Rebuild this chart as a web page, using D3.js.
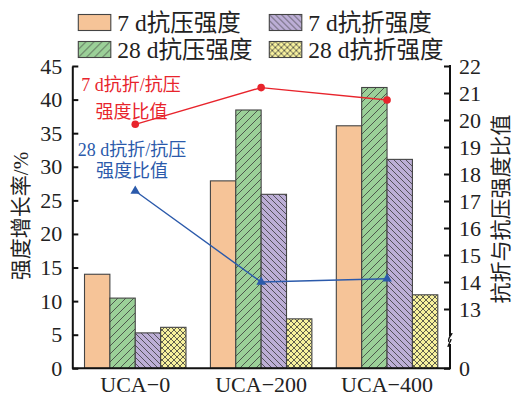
<!DOCTYPE html>
<html>
<head>
<meta charset="utf-8">
<script src="https://cdn.jsdelivr.net/npm/d3@7"></script>
<style>
  html, body { margin: 0; padding: 0; background: #fff; }
  svg text { font-family: "Liberation Serif", "Noto Sans CJK SC", serif; fill: #222; }
</style>
</head>
<body>
<svg id="chart" width="512" height="397"></svg>
<script>
// Mix groups and the four bar series (strength growth rate, %)
const groups = ["UCA\u22120", "UCA\u2212200", "UCA\u2212400"];
const seriesNames = ["7 d抗压强度", "28 d抗压强度", "7 d抗折强度", "28 d抗折强度"];
const comp7 = [14.0, 27.9, 36.1];
const comp28 = [10.45, 38.45, 41.8];
const flex7 = [5.27, 25.9, 31.1];
const flex28 = [6.1, 7.36, 10.94];

// Flexural/compressive strength ratio lines (right axis)
const ratio7 = [19.84, 21.2, 20.74];
const ratio28 = [17.37, 14.0, 14.12];

// Tick labels
const leftTicks = [0, 5, 10, 15, 20, 25, 30, 35, 40, 45];
const rightTicks = [0, 13, 14, 15, 16, 17, 18, 19, 20, 21, 22];

const svg = d3.select("#chart");
const plotL = 72.3, plotR = 450, plotT = 66, plotB = 368.3;

const x = d3.scaleBand().domain(groups).range([plotL, plotR]).paddingInner(0.194).paddingOuter(0.097);
const barKeys = [0, 1, 2, 3];
const xs = d3.scaleBand().domain(barKeys).range([0, x.bandwidth()]);
const y = d3.scaleLinear().domain([0, 45]).range([plotB, plotT]);
// broken right axis: 0 at the baseline, 12..22 stretched above the break
const y2 = d3.scaleLinear().domain([0, 12, 22]).range([plotB, 336, plotT]);

const fills = ["#f6c498", "#9bd098", "#bcaed6", "#f7f19d"];
const patIds = [null, "hatchFwd", "hatchBack", "hatchCross"];

// Hatch patterns
const defs = svg.append("defs");
function pattern(id, size, bg, d) {
  const p = defs.append("pattern").attr("id", id).attr("patternUnits", "userSpaceOnUse")
    .attr("width", size).attr("height", size);
  p.append("rect").attr("width", size).attr("height", size).attr("fill", bg);
  p.append("path").attr("d", d).attr("stroke", "#3a3a3a").attr("stroke-width", 0.8).attr("fill", "none");
}
pattern("hatchFwd", 8, fills[1], "M-2,2 L2,-2 M0,8 L8,0 M6,10 L10,6");
pattern("hatchBack", 6, fills[2], "M-1.5,4.5 L1.5,7.5 M0,0 L6,6 M4.5,-1.5 L7.5,1.5");
pattern("hatchCross", 6, fills[3], "M0,0 L6,6 M-1.5,4.5 L1.5,7.5 M4.5,-1.5 L7.5,1.5 M0,6 L6,0 M-1.5,1.5 L1.5,-1.5 M4.5,7.5 L7.5,4.5");

function fillOf(i) { return patIds[i] ? "url(#" + patIds[i] + ")" : fills[i]; }

// Bars
const seriesVals = [comp7, comp28, flex7, flex28];
const rows = [];
groups.forEach((g, gi) => seriesVals.forEach((vals, si) => rows.push({ g, si, v: vals[gi] })));
svg.append("g").selectAll("rect").data(rows).join("rect")
  .attr("x", d => x(d.g) + xs(d.si))
  .attr("y", d => y(d.v))
  .attr("width", xs.bandwidth())
  .attr("height", d => plotB - y(d.v))
  .attr("fill", d => fillOf(d.si))
  .attr("stroke", "#444")
  .attr("stroke-width", 1.1);

// Left axis
const gL = svg.append("g").attr("transform", `translate(${plotL},0)`)
  .call(d3.axisLeft(y).tickValues(leftTicks).tickSize(-6).tickPadding(10).tickSizeOuter(0));
gL.select(".domain").attr("stroke", "#111").attr("stroke-width", 2);
gL.selectAll(".tick line").attr("stroke", "#111").attr("stroke-width", 2);
gL.selectAll(".tick text").attr("font-size", 22).attr("fill", "#222").attr("font-family", "Liberation Serif");

// Bottom axis (labels only)
svg.append("line").attr("x1", plotL).attr("x2", plotR).attr("y1", plotB).attr("y2", plotB)
  .attr("stroke", "#111").attr("stroke-width", 2);
svg.append("g").selectAll("text").data(groups).join("text")
  .attr("x", d => x(d) + x.bandwidth() / 2)
  .attr("y", 392)
  .attr("text-anchor", "middle")
  .attr("font-size", 22)
  .text(d => d);

// Right axis with a break between 0 and 13
const gR = svg.append("g").attr("transform", `translate(${plotR},0)`)
  .call(d3.axisRight(y2).tickValues(rightTicks).tickSize(-6).tickPadding(9).tickSizeOuter(0));
gR.select(".domain").remove();
gR.selectAll(".tick line").attr("stroke", "#111").attr("stroke-width", 2);
gR.selectAll(".tick text").attr("font-size", 22).attr("fill", "#222").attr("font-family", "Liberation Serif");
const brkTop = y2(12), brkBot = y2(12) + 8;
gR.append("line").attr("x1", 0).attr("x2", 0).attr("y1", plotT - 1).attr("y2", brkTop).attr("stroke", "#111").attr("stroke-width", 2);
gR.append("line").attr("x1", 0).attr("x2", 0).attr("y1", brkBot).attr("y2", plotB + 1).attr("stroke", "#111").attr("stroke-width", 2);
gR.append("path")
  .attr("d", `M-1,${brkTop + 6} C-3,${brkTop + 2} 2,${brkTop - 1} 2,${brkTop - 3}`)
  .attr("stroke", "#111").attr("stroke-width", 1.3).attr("fill", "none");
gR.append("path")
  .attr("d", `M-2,${brkBot + 3} C-2,${brkBot} 1,${brkBot - 2} 1,${brkBot - 5}`)
  .attr("stroke", "#111").attr("stroke-width", 1.3).attr("fill", "none");

// Ratio lines
const cx = d => x(d) + x.bandwidth() / 2;
const line = d3.line().x(d => cx(d.g)).y(d => y2(d.v));
const red = "#e8242c", blue = "#2b5aab";
const r7 = groups.map((g, i) => ({ g, v: ratio7[i] }));
const r28 = groups.map((g, i) => ({ g, v: ratio28[i] }));
svg.append("path").datum(r7).attr("d", line).attr("fill", "none").attr("stroke", red).attr("stroke-width", 1.4);
svg.append("g").selectAll("circle").data(r7).join("circle")
  .attr("cx", d => cx(d.g)).attr("cy", d => y2(d.v)).attr("r", 3.8).attr("fill", red);
svg.append("path").datum(r28).attr("d", line).attr("fill", "none").attr("stroke", blue).attr("stroke-width", 1.4);
svg.append("g").selectAll("path.tri").data(r28).join("path").attr("class", "tri")
  .attr("transform", d => `translate(${cx(d.g)},${y2(d.v)})`)
  .attr("d", d3.symbol(d3.symbolTriangle, 40))
  .attr("fill", blue);

// Line annotations
const ann = svg.append("g").attr("font-size", 18).attr("text-anchor", "middle");
ann.append("text").attr("x", 131).attr("y", 91).style("fill", red).text("7 d抗折/抗压");
ann.append("text").attr("x", 131.5).attr("y", 118).style("fill", red).text("强度比值");
ann.append("text").attr("x", 132).attr("y", 156).style("fill", blue).text("28 d抗折/抗压");
ann.append("text").attr("x", 132).attr("y", 177).style("fill", blue).text("强度比值");

// Axis titles
svg.append("text").attr("transform", "translate(28,216) rotate(-90)")
  .attr("text-anchor", "middle").attr("font-size", 21).text("强度增长率/%");
svg.append("text").attr("transform", "translate(508,209) rotate(-90)")
  .attr("text-anchor", "middle").attr("font-size", 21).text("抗折与抗压强度比值");

// Legend: two columns, two rows
const legendOrder = [0, 2, 1, 3];
const legPos = [[78.3, 14.5], [269.3, 14.5], [78.3, 41.5], [269.3, 41.5]];
const leg = svg.append("g").selectAll("g").data(legendOrder).join("g")
  .attr("transform", (d, i) => `translate(${legPos[i][0]},${legPos[i][1]})`);
leg.append("rect").attr("width", 32.5).attr("height", 16).attr("fill", d => fillOf(d))
  .attr("stroke", "#444").attr("stroke-width", 1.1);
leg.append("text").attr("x", 39).attr("y", 16.5).attr("font-size", 23.5).text(d => seriesNames[d]);
</script>
</body>
</html>
